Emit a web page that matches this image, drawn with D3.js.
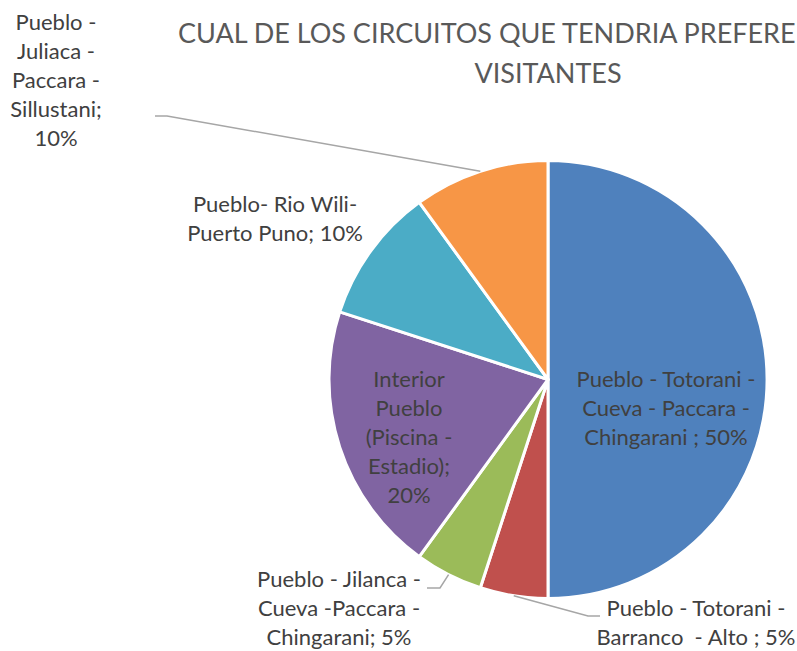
<!DOCTYPE html>
<html>
<head>
<meta charset="utf-8">
<script src="https://cdn.jsdelivr.net/npm/d3@7/dist/d3.min.js"></script>
<style>
  html, body { margin: 0; padding: 0; background: #fff; }
  svg { display: block; }
  text { font-family: "Lato", "Liberation Sans", sans-serif; }
</style>
</head>
<body>
<svg id="chart" width="797" height="651"></svg>
<script>
// ---- data ----
const categories = [
  "Pueblo - Totorani - Cueva - Paccara - Chingarani",
  "Pueblo - Totorani - Barranco  - Alto",
  "Pueblo - Jilanca - Cueva -Paccara - Chingarani",
  "Interior Pueblo (Piscina - Estadio)",
  "Pueblo- Rio Wili- Puerto Puno",
  "Pueblo - Juliaca - Paccara - Sillustani"
];
const values = [50, 5, 5, 20, 10, 10];
const colors = ["#4F81BD", "#C0504D", "#9BBB59", "#8064A2", "#4BACC6", "#F79646"];
const labelLines = [
  ["Pueblo - Totorani -", "Cueva - Paccara -", "Chingarani ; 50%"],
  ["Pueblo - Totorani -", "Barranco  - Alto ; 5%"],
  ["Pueblo - Jilanca -", "Cueva -Paccara -", "Chingarani; 5%"],
  ["Interior", "Pueblo", "(Piscina -", "Estadio);", "20%"],
  ["Pueblo- Rio Wili-", "Puerto Puno; 10%"],
  ["Pueblo -", "Juliaca -", "Paccara -", "Sillustani;", "10%"]
];
const titleLines = ["CUAL DE LOS CIRCUITOS QUE TENDRIA PREFERE", "VISITANTES"];

// ---- layout ----
const W = 797, H = 651;
const cx = 548, cy = 379.5, R = 219;
const lineH = 29;
// label block: x center / first baseline, and optional leader elbow
const labelLayout = [
  { x: 666, y: 387, anchor: "middle" },
  { x: 696, y: 616, anchor: "middle", elbow: [588, 616], end: [600, 616] },
  { x: 339, y: 587, anchor: "middle", elbow: [440, 588], end: [427, 588] },
  { x: 409, y: 387, anchor: "middle" },
  { x: 275, y: 212, anchor: "middle" },
  { x: 56, y: 30, anchor: "middle", elbow: [167, 116], end: [155, 116] }
];

const svg = d3.select("#chart");

// title
const title = svg.append("g");
title.append("text")
  .attr("x", 178).attr("y", 43)
  .attr("font-size", 27).attr("fill", "#595959")
  .text(titleLines[0]);
title.append("text")
  .attr("x", cx).attr("y", 83).attr("text-anchor", "middle")
  .attr("font-size", 27).attr("fill", "#595959")
  .text(titleLines[1]);

// pie
const pie = d3.pie().sort(null).value(d => d)(values);
const arc = d3.arc().innerRadius(0).outerRadius(R);
const g = svg.append("g").attr("transform", `translate(${cx},${cy})`);
g.selectAll("path").data(pie).join("path")
  .attr("d", arc)
  .attr("fill", (d, i) => colors[i])
  .attr("stroke", "#fff")
  .attr("stroke-width", 3)
  .attr("stroke-linejoin", "round");

// leaders
pie.forEach((d, i) => {
  const L = labelLayout[i];
  if (!L.elbow) return;
  const a = (d.startAngle + d.endAngle) / 2;
  const px = cx + R * Math.sin(a), py = cy - R * Math.cos(a);
  svg.append("polyline")
    .attr("points", [[px, py], L.elbow, L.end].map(p => p.join(",")).join(" "))
    .attr("fill", "none")
    .attr("stroke", "#A6A6A6")
    .attr("stroke-width", 1.5);
});

// labels
labelLines.forEach((lines, i) => {
  const L = labelLayout[i];
  const t = svg.append("text")
    .attr("font-size", 22)
    .attr("fill", "#404040")
    .attr("text-anchor", L.anchor);
  lines.forEach((ln, j) => {
    t.append("tspan").attr("x", L.x).attr("y", L.y + j * lineH)
      .attr("xml:space", "preserve")
      .style("white-space", "pre")
      .text(ln);
  });
});
</script>
</body>
</html>
